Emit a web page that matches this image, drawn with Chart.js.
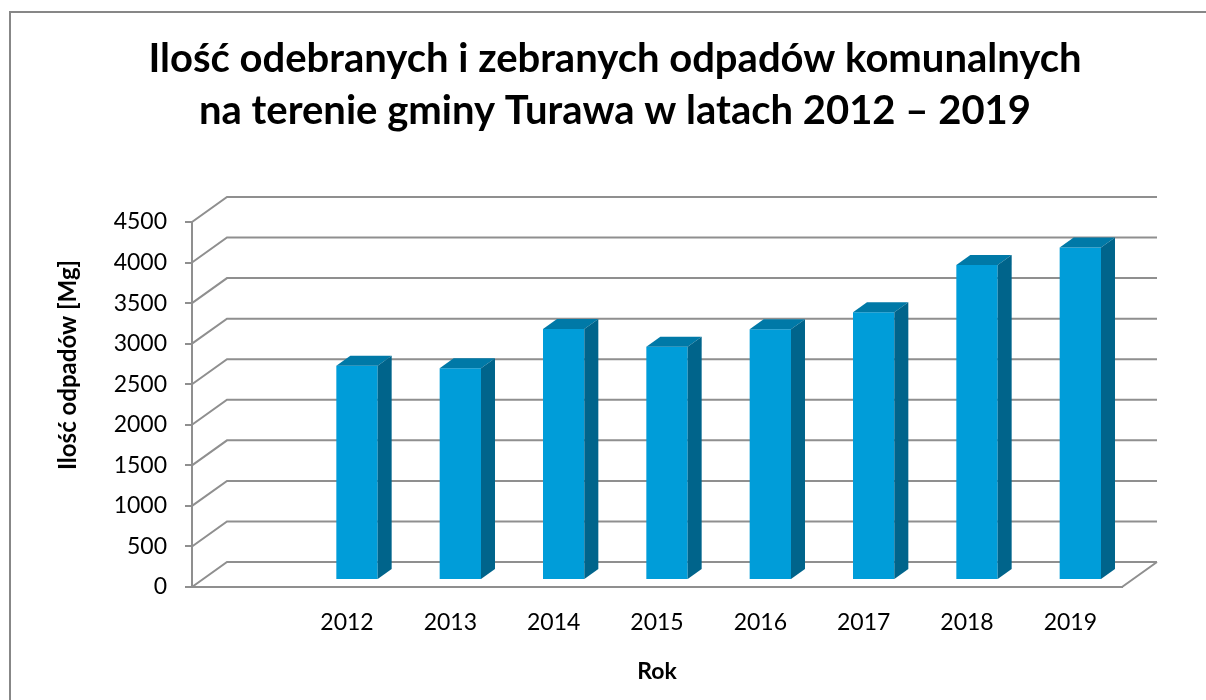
<!DOCTYPE html>
<html>
<head>
<meta charset="utf-8">
<script src="https://cdn.jsdelivr.net/npm/chart.js@4"></script>
<style>
  body { margin: 0; background: #fff; }
</style>
</head>
<body>
<canvas id="chart_odpady" width="1206" height="700"></canvas>
<script>
var years = ['', '2012', '2013', '2014', '2015', '2016', '2017', '2018', '2019'];
var wasteMg = [null, 2640, 2610, 3095, 2875, 3090, 3300, 3885, 4100];
var titleLines = ['Ilość odebranych i zebranych odpadów komunalnych', 'na terenie gminy Turawa w latach 2012 – 2019'];
var yTitle = 'Ilość odpadów [Mg]';
var xTitle = 'Rok';

var gridColor = '#8f8f8f';
var wallDepth = {x: 35, y: -25};
var barShift = {x: 10, y: -7};
var barDepth = {x: 14, y: -10};

// walls, back gridlines and the 3d faces of the columns
var chart3d = {
    id: 'chart3d',
    beforeDraw: function(chart) {
        var ctx = chart.ctx;
        ctx.save();
        ctx.fillStyle = 'white';
        ctx.fillRect(0, 0, chart.width, chart.height);
        ctx.strokeStyle = '#878787';
        ctx.lineWidth = 2;
        ctx.strokeRect(10, 12, chart.width + 20, chart.height + 20);
        ctx.restore();
    },
    beforeDatasetsDraw: function(chart) {
        var ctx = chart.ctx, area = chart.chartArea, y = chart.scales.y;
        ctx.save();
        ctx.strokeStyle = gridColor;
        ctx.lineWidth = 2;
        ctx.beginPath();
        y.ticks.forEach(function(t) {
            var py = y.getPixelForValue(t.value);
            ctx.moveTo(area.left, py);
            ctx.lineTo(area.left + wallDepth.x, py + wallDepth.y);
            ctx.lineTo(area.right + wallDepth.x, py + wallDepth.y);
        });
        var y0 = y.getPixelForValue(0);
        ctx.moveTo(area.right, y0);
        ctx.lineTo(area.right + wallDepth.x, y0 + wallDepth.y);
        ctx.stroke();
        ctx.restore();

        ctx.save();
        ctx.translate(barShift.x, barShift.y);
    },
    afterDatasetsDraw: function(chart) {
        var ctx = chart.ctx;
        chart.getDatasetMeta(0).data.forEach(function(bar, i) {
            if (wasteMg[i] == null) return;
            var l = bar.x - bar.width / 2, r = bar.x + bar.width / 2, t = bar.y, b = bar.base;
            ctx.fillStyle = '#0079a7';
            ctx.beginPath();
            ctx.moveTo(l, t);
            ctx.lineTo(r, t);
            ctx.lineTo(r + barDepth.x, t + barDepth.y);
            ctx.lineTo(l + barDepth.x, t + barDepth.y);
            ctx.closePath();
            ctx.fill();
            ctx.fillStyle = '#00648b';
            ctx.beginPath();
            ctx.moveTo(r, t);
            ctx.lineTo(r + barDepth.x, t + barDepth.y);
            ctx.lineTo(r + barDepth.x, b + barDepth.y);
            ctx.lineTo(r, b);
            ctx.closePath();
            ctx.fill();
        });
        ctx.restore();
    },
    afterDraw: function(chart) {
        var ctx = chart.ctx;
        ctx.save();
        ctx.translate(68, 365);
        ctx.rotate(-Math.PI / 2);
        ctx.font = 'bold 24px Lato';
        ctx.fillStyle = '#000';
        ctx.textAlign = 'center';
        ctx.textBaseline = 'middle';
        ctx.fillText(yTitle, 0, 0);
        ctx.restore();
    }
};

var chart_odpady = new Chart(document.getElementById('chart_odpady'), {
    type: 'bar',
    data: {
        labels: years,
        datasets: [
            {
                label: yTitle,
                data: wasteMg,
                backgroundColor: '#009dd9',
                borderWidth: 0,
                barPercentage: 0.4,
                categoryPercentage: 1,
                clip: false
            }
        ]
    },
    options: {
        animation: false,
        responsive: false,
        layout: {
            padding: {left: 24, right: 0, top: 0, bottom: 0}
        },
        plugins: {
            legend: {display: false},
            tooltip: {enabled: false},
            title: {
                display: true,
                text: titleLines,
                color: '#000',
                font: {family: 'Lato', size: 40, weight: 'bold', lineHeight: '52px'},
                padding: {top: 33, bottom: 85}
            }
        },
        scales: {
            x: {
                type: 'category',
                grid: {display: false, drawTicks: false},
                border: {display: true, color: gridColor, width: 2},
                ticks: {
                    color: '#000',
                    padding: 22,
                    font: {family: 'Lato', size: 23}
                },
                title: {
                    display: true,
                    text: xTitle,
                    color: '#000',
                    font: {family: 'Lato', size: 23, weight: 'bold'},
                    padding: {top: 4, bottom: 15}
                },
                afterFit: function(scale) { scale.height = 113; }
            },
            y: {
                min: 0,
                max: 4500,
                grid: {drawOnChartArea: false, drawTicks: true, tickLength: 7, color: gridColor, lineWidth: 2},
                border: {display: true, color: gridColor, width: 2},
                ticks: {
                    stepSize: 500,
                    color: '#000',
                    padding: 18,
                    font: {family: 'Lato', size: 23},
                    callback: function(value) { return String(value); }
                },
                afterFit: function(scale) { scale.width = 168; }
            },
            yR: {
                position: 'right',
                display: true,
                grid: {display: false},
                border: {display: false},
                ticks: {display: false},
                afterFit: function(scale) { scale.width = 84; }
            }
        }
    },
    plugins: [chart3d]
});
</script>
</body>
</html>
